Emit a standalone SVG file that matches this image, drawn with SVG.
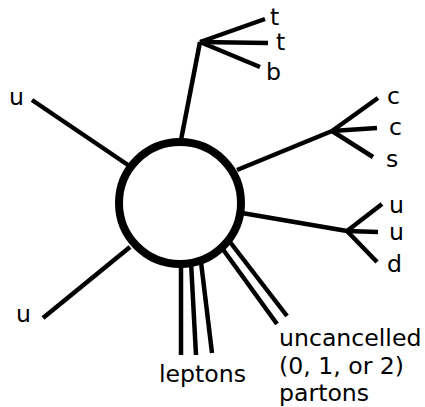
<svg xmlns="http://www.w3.org/2000/svg" width="425" height="407" viewBox="0 0 425 407">
<style>
.l{stroke:#000;stroke-width:4.5;fill:none;stroke-linecap:butt}
.t{font-family:"DejaVu Sans",sans-serif;font-size:23.6px;fill:#000}
</style>
<rect width="425" height="407" fill="#fff"/>
<g id="connectors">
<line class="l" x1="32" y1="100" x2="128" y2="165"/>
<line class="l" x1="43" y1="318" x2="130" y2="247"/>
<line class="l" x1="181" y1="140" x2="200" y2="42"/>
<line class="l" x1="200" y1="42" x2="265" y2="19"/>
<line class="l" x1="200" y1="42" x2="268" y2="43"/>
<line class="l" x1="200" y1="42" x2="260" y2="67"/>
<line class="l" x1="237" y1="170" x2="332" y2="131"/>
<line class="l" x1="332" y1="131" x2="378" y2="98"/>
<line class="l" x1="332" y1="131" x2="377" y2="128"/>
<line class="l" x1="332" y1="131" x2="373" y2="157"/>
<line class="l" x1="242" y1="213" x2="347" y2="231"/>
<line class="l" x1="347" y1="231" x2="382" y2="204"/>
<line class="l" x1="347" y1="231" x2="378" y2="232"/>
<line class="l" x1="347" y1="231" x2="377" y2="262"/>
<line class="l" x1="181" y1="262" x2="181" y2="355"/>
<line class="l" x1="191" y1="262" x2="196" y2="355"/>
<line class="l" x1="201" y1="262" x2="212" y2="353"/>
<line class="l" x1="222" y1="248" x2="277" y2="324"/>
<line class="l" x1="230" y1="242" x2="287" y2="316"/>
</g>
<g id="blob">
<circle cx="180" cy="203" r="61" fill="#fff" stroke="#000" stroke-width="8"/>
</g>
<g id="labels">
<text class="t" x="9" y="105">u</text>
<text class="t" x="16" y="322">u</text>
<text class="t" x="270" y="25">t</text>
<text class="t" x="276" y="50">t</text>
<text class="t" x="266" y="80">b</text>
<text class="t" x="387" y="104">c</text>
<text class="t" x="389" y="135">c</text>
<text class="t" x="386" y="167">s</text>
<text class="t" x="389" y="213">u</text>
<text class="t" x="389" y="240">u</text>
<text class="t" x="387" y="272">d</text>
<text class="t" x="159" y="382">leptons</text>
<text class="t" x="279" y="346">uncancelled</text>
<text class="t" x="279" y="374">(0, 1, or 2)</text>
<text class="t" x="279" y="401">partons</text>
</g>
</svg>
